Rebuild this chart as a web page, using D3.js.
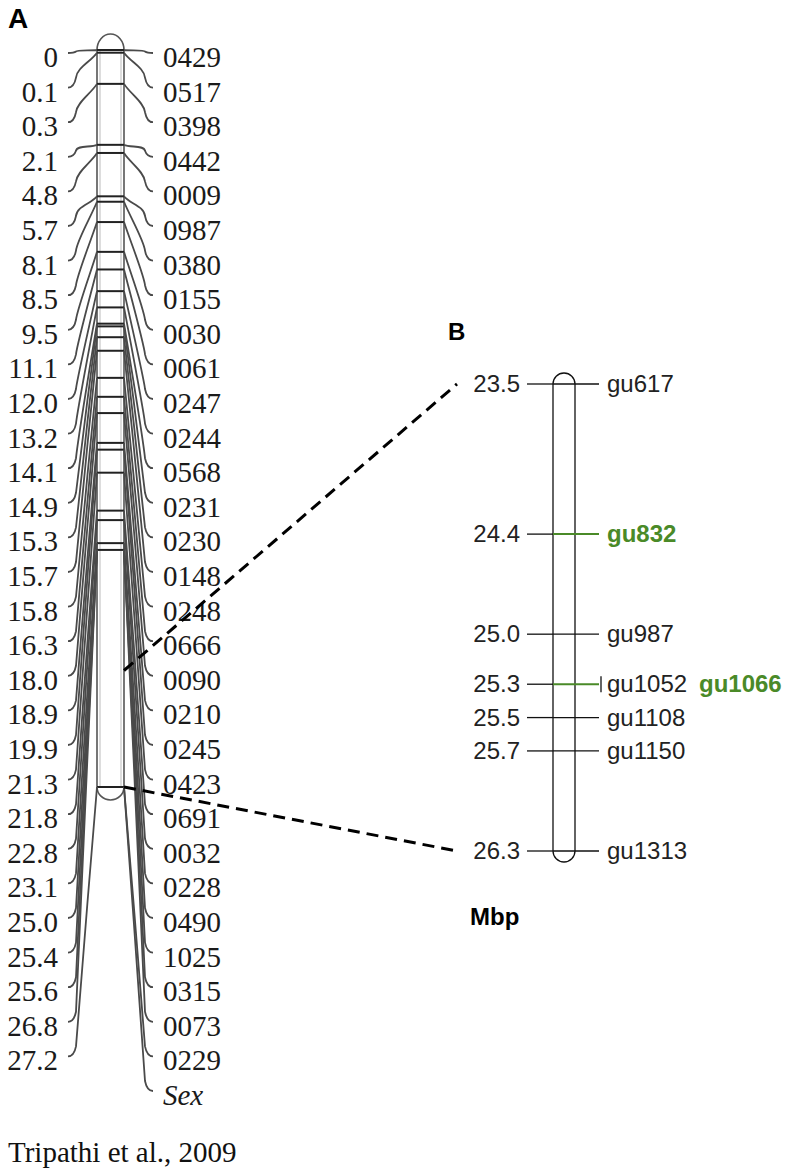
<!DOCTYPE html>
<html>
<head>
<meta charset="utf-8">
<script src="https://cdn.jsdelivr.net/npm/d3@7"></script>
<style>
  body { margin: 0; background: #fff; }
</style>
</head>
<body>
<div id="chart"></div>
<script>
// panel A: linkage group, cM on the left, marker names on the right
const cMLabels = ["0", "0.1", "0.3", "2.1", "4.8", "5.7", "8.1", "8.5", "9.5", "11.1",
  "12.0", "13.2", "14.1", "14.9", "15.3", "15.7", "15.8", "16.3", "18.0", "18.9",
  "19.9", "21.3", "21.8", "22.8", "23.1", "25.0", "25.4", "25.6", "26.8", "27.2"];
const markerNames = ["0429", "0517", "0398", "0442", "0009", "0987", "0380", "0155", "0030", "0061",
  "0247", "0244", "0568", "0231", "0230", "0148", "0248", "0666", "0090", "0210",
  "0245", "0423", "0691", "0032", "0228", "0490", "1025", "0315", "0073", "0229", "Sex"];
// where each marker sits on the drawn bar (bar units, 0 - 27.2)
const barPos = [0, 0.1, 1.25, 3.5, 3.8, 5.4, 5.6, 6.35, 7.45, 8.1,
  8.9, 9.5, 10.1, 10.2, 10.6, 11.1, 12.1, 12.8, 13.4, 14.5,
  14.75, 15.6, 17.0, 17.35, 18.2, 18.45, 18.45, 18.45, 18.45, 27.2, 27.2];
const zoomFrom = 22.9, zoomTo = 27.2;

// panel B: physical region
const regionMbp = [23.5, 24.4, 25.0, 25.3, 25.5, 25.7, 26.3];
const regionMarkers = ["gu617", "gu832", "gu987", "gu1052", "gu1108", "gu1150", "gu1313"];
const greenMarkers = ["gu832", "gu1052"];
const extraLabel = {at: 25.3, text: "gu1066"};

const width = 789, height = 1173;
const green = "#4a8a28";

const svg = d3.select("#chart")
  .append("svg")
    .attr("width", width)
    .attr("height", height)
    .style("background", "#fff");

// ---------- panel A ----------
const barY = d3.scaleLinear().domain([0, 27.2]).range([50, 787]);
const slotY = d3.scaleLinear().domain([0, 30]).range([57, 1095]);
const barL = 97, barR = 124;

const A = svg.append("g");

A.append("text")
    .attr("x", 8).attr("y", 28)
    .style("font", "bold 28px 'Liberation Sans', Arial, sans-serif")
    .text("A");

// bar
const capTop = barY(0), capBot = barY(27.2);
const rx = (barR - barL) / 2;
A.append("path")
    .attr("d", `M${barL},${capBot} L${barL},${capTop} A${rx},16 0 0 1 ${barR},${capTop} L${barR},${capBot} A${rx},13 0 0 1 ${barL},${capBot} Z`)
    .attr("fill", "#fff")
    .attr("stroke", "#555")
    .attr("stroke-width", 1.6);
A.append("rect")
    .attr("x", barL + 3).attr("y", capTop)
    .attr("width", barR - barL - 6).attr("height", capBot - capTop)
    .attr("fill", "none")
    .attr("stroke", "#aaa")
    .attr("stroke-width", 0.8);

// bands
const bands = Array.from(new Set(barPos));
A.selectAll(".band")
  .data(bands)
  .join("line")
    .attr("class", "band")
    .attr("x1", barL).attr("x2", barR)
    .attr("y1", d => barY(d)).attr("y2", d => barY(d))
    .attr("stroke", "#222")
    .attr("stroke-width", 2);

function connector(side, b, i) {
  const yb = barY(b), yl = slotY(i) - 4;
  const dy = yl - yb;
  const bend = Math.min(10, Math.abs(dy) * 0.5) * Math.sign(dy || 1);
  if (side === "left") {
    return `M${barL},${yb} C${barL - 6},${yb + dy * 0.25} 77,${yl - bend * 2} 76,${yl - bend} Q74,${yl} 68,${yl}`;
  }
  return `M${barR},${yb} C${barR + 6},${yb + dy * 0.25} 144,${yl - bend * 2} 145,${yl - bend} Q147,${yl} 153,${yl}`;
}

A.selectAll(".connL")
  .data(cMLabels)
  .join("path")
    .attr("class", "connL")
    .attr("d", (d, i) => connector("left", barPos[i], i))
    .attr("fill", "none")
    .attr("stroke", "#4a4a4a")
    .attr("stroke-width", 1.8);

A.selectAll(".connR")
  .data(markerNames)
  .join("path")
    .attr("class", "connR")
    .attr("d", (d, i) => connector("right", barPos[i], i))
    .attr("fill", "none")
    .attr("stroke", "#4a4a4a")
    .attr("stroke-width", 1.8);

A.selectAll(".cm")
  .data(cMLabels)
  .join("text")
    .attr("class", "cm")
    .attr("x", 58)
    .attr("y", (d, i) => slotY(i) + 10)
    .attr("text-anchor", "end")
    .style("font", "29px 'Liberation Serif', 'Times New Roman', serif")
    .style("fill", "#1a1a1a")
    .text(d => d);

A.selectAll(".mk")
  .data(markerNames)
  .join("text")
    .attr("class", "mk")
    .attr("x", 163)
    .attr("y", (d, i) => slotY(i) + 10)
    .style("font", "29px 'Liberation Serif', 'Times New Roman', serif")
    .style("font-style", d => d === "Sex" ? "italic" : "normal")
    .style("fill", "#1a1a1a")
    .text(d => d);

svg.append("text")
    .attr("x", 8).attr("y", 1162)
    .style("font", "29px 'Liberation Serif', 'Times New Roman', serif")
    .style("fill", "#111")
    .text("Tripathi et al., 2009");

// ---------- panel B ----------
const mbpY = d3.scaleLinear().domain([23.5, 26.3]).range([384, 851]);
const bL = 553, bR = 575;
const B = svg.append("g");

B.append("text")
    .attr("x", 448).attr("y", 340)
    .style("font", "bold 24px 'Liberation Sans', Arial, sans-serif")
    .text("B");

// zoom lines
const zoomLines = [[zoomFrom, 23.5], [zoomTo, 26.3]];
svg.selectAll(".zoom")
  .data(zoomLines)
  .join("line")
    .attr("class", "zoom")
    .attr("x1", barR).attr("y1", d => barY(d[0]))
    .attr("x2", 457).attr("y2", d => mbpY(d[1]))
    .attr("stroke", "#000")
    .attr("stroke-width", 3)
    .attr("stroke-dasharray", "12,7");

const brx = (bR - bL) / 2;
const t0 = mbpY(23.5), t1 = mbpY(26.3);
B.append("path")
    .attr("d", `M${bL},${t1} L${bL},${t0} A${brx},${brx} 0 0 1 ${bR},${t0} L${bR},${t1} A${brx},${brx} 0 0 1 ${bL},${t1} Z`)
    .attr("fill", "#fff")
    .attr("stroke", "#111")
    .attr("stroke-width", 1.3);

const regionData = regionMbp.map((v, i) => ({mbp: v, name: regionMarkers[i], hi: greenMarkers.includes(regionMarkers[i])}));

B.selectAll(".lineL")
  .data(regionData)
  .join("line")
    .attr("class", "lineL")
    .attr("x1", 527).attr("x2", bL)
    .attr("y1", d => mbpY(d.mbp)).attr("y2", d => mbpY(d.mbp))
    .attr("stroke", "#111")
    .attr("stroke-width", 1.3);

B.selectAll(".lineR")
  .data(regionData)
  .join("line")
    .attr("class", "lineR")
    .attr("x1", bL).attr("x2", 599)
    .attr("y1", d => mbpY(d.mbp)).attr("y2", d => mbpY(d.mbp))
    .attr("stroke", d => d.hi ? green : "#111")
    .attr("stroke-width", d => d.hi ? 2 : 1.3);

// small bracket where two markers share a position
B.append("line")
    .attr("x1", 601).attr("x2", 601)
    .attr("y1", mbpY(extraLabel.at) - 8).attr("y2", mbpY(extraLabel.at) + 8)
    .attr("stroke", "#111")
    .attr("stroke-width", 1.3);

B.selectAll(".mbp")
  .data(regionData)
  .join("text")
    .attr("class", "mbp")
    .attr("x", 520)
    .attr("y", d => mbpY(d.mbp) + 8)
    .attr("text-anchor", "end")
    .style("font", "24px 'Liberation Sans', Arial, sans-serif")
    .style("fill", "#222")
    .text(d => d3.format(".1f")(d.mbp));

B.selectAll(".gu")
  .data(regionData)
  .join("text")
    .attr("class", "gu")
    .attr("x", 607)
    .attr("y", d => mbpY(d.mbp) + 8)
    .style("font", d => (d.name === "gu832" ? "bold " : "") + "24px 'Liberation Sans', Arial, sans-serif")
    .style("fill", d => d.name === "gu832" ? green : "#222")
    .text(d => d.name);

B.append("text")
    .attr("x", 699)
    .attr("y", mbpY(extraLabel.at) + 8)
    .style("font", "bold 24px 'Liberation Sans', Arial, sans-serif")
    .style("fill", green)
    .text(extraLabel.text);

B.append("text")
    .attr("x", 470).attr("y", 925)
    .style("font", "bold 24px 'Liberation Sans', Arial, sans-serif")
    .text("Mbp");
</script>
</body>
</html>
